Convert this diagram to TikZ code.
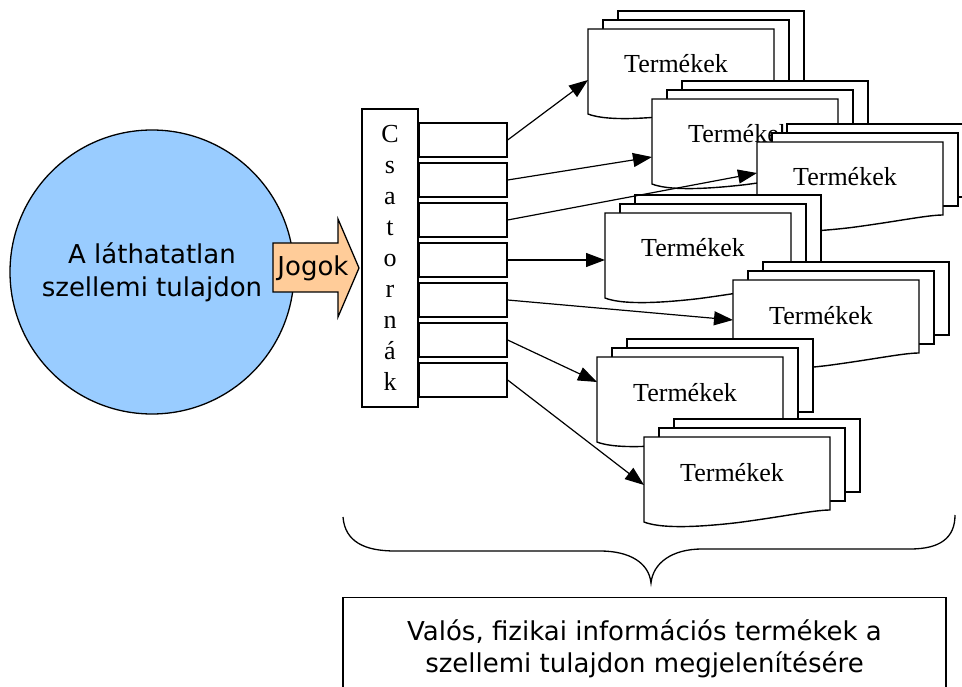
\documentclass[tikz,border=0pt]{standalone}
\usepackage{fontspec}
\setmainfont{Liberation Serif}
\newfontfamily\verdana{DejaVu Sans}
\usetikzlibrary{arrows.meta}
\definecolor{circleblue}{HTML}{99CCFF}
\definecolor{jogpeach}{HTML}{FFCC99}

% stack of three product sheets: name, left and top of the front sheet
\newcommand{\termekstack}[3]{%
	\begin{scope}[shift={(#2,#3)}]
		\draw[sheet] (30,-18) rectangle ++(186,73);
		\draw[sheet] (15,-9) rectangle ++(186,73);
		\draw[sheet] (0,0) -- (186,0) -- (186,73)
		.. controls (170.5,73) and (139.5,79.6) .. (93,85.7)
		.. controls (46.5,91) and (15.5,91) .. (0,85) -- cycle;
		\coordinate (#1) at (0,0);
		\node[termlabel] (#1-label) at (88,44) {Termékek};
	\end{scope}}

\begin{document}
\begin{tikzpicture}[x=1pt, y=-1pt,
		sheet/.style={draw, fill=white, line width=1.4pt},
		termlabel/.style={anchor=base, inner sep=0pt, font=\fontsize{26}{31}\selectfont},
		chbox/.style={draw, line width=1.3pt, minimum width=88pt, minimum height=34pt, inner sep=0pt},
		feed/.style={-{Triangle[length=19pt,width=14pt]}, line width=1.2pt}]
		\useasboundingbox (0,0) rectangle (962,687);

		% the invisible property and its rights
		\node[circle, draw, line width=1.3pt, fill=circleblue, minimum size=284pt, inner sep=0pt,
			align=center, font=\verdana\fontsize{26}{33}\selectfont]
			(tulajdon) at (152,272) {A láthatatlan\\szellemi tulajdon};
		\draw[line width=1.3pt, fill=jogpeach]
		(273,243) -- (338,243) -- (338,219) -- (359,268)
		-- (338,317) -- (338,292) -- (273,292) -- cycle;
		\node[inner sep=0pt, font=\verdana\fontsize{26}{30}\selectfont] (jogok) at (313,268) {Jogok};

		% channels
		\node[draw, line width=1.3pt, minimum width=56pt, minimum height=298pt, inner sep=0pt,
			align=center, font=\fontsize{26}{31}\selectfont]
			(csatornak) at (390,258) {C\\s\\a\\t\\o\\r\\n\\á\\k};
		\foreach \i in {1,...,7}
			\node[chbox] (ch\i) at (463,100+40*\i) {};

		% products
		\termekstack{docA}{588}{29}
		\termekstack{docB}{652}{99}
		\termekstack{docC}{757}{142}
		\termekstack{docD}{605}{213}
		\termekstack{docE}{733}{280}
		\termekstack{docF}{597}{357}
		\termekstack{docG}{644}{437}

		\draw[feed] (ch1.east) -- ([yshift=-51pt]docA);
		\draw[feed] (ch2.east) -- ([yshift=-58pt]docB);
		\draw[feed] (ch3.east) -- ([yshift=-31pt]docC);
		\draw[feed] (ch4.east) -- ([yshift=-47pt]docD);
		\draw[feed] (ch5.east) -- ([yshift=-40pt]docE);
		\draw[feed] (ch6.east) -- ([yshift=-25pt]docF);
		\draw[feed] (ch7.east) -- ([yshift=-48pt]docG);

		% brace and caption
		\draw[line width=1.3pt] (343,517) .. controls (345,542) and (365,551) .. (395,551)
		-- (600,551) .. controls (630,551) and (649,563) .. (651,583)
		.. controls (653,563) and (672,549) .. (702,549)
		-- (910,549) .. controls (940,549) and (955,538) .. (955,515);
		\node[draw, line width=1.3pt, minimum width=603pt, minimum height=103pt, anchor=north,
			align=center, font=\verdana\fontsize{26}{32}\selectfont]
			(valos) at (644.5,597) {Valós, fizikai információs termékek a\\szellemi tulajdon megjelenítésére};
	\end{tikzpicture}
\end{document}
